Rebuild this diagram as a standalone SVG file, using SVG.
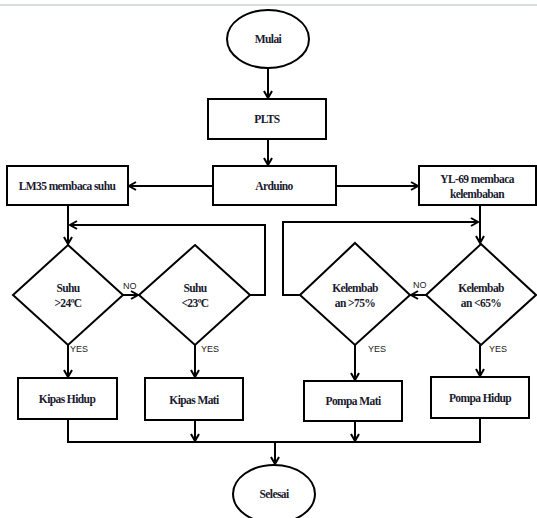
<svg xmlns="http://www.w3.org/2000/svg" width="537" height="518" viewBox="0 0 537 518">
<style>
.s{fill:#fff;stroke:#000;stroke-width:2}
.c{fill:none;stroke:#000;stroke-width:2}
.t{font-family:"Liberation Serif",serif;font-weight:bold;font-size:11.5px;letter-spacing:-0.6px;text-anchor:middle;fill:#1a1a2e}
.l{font-family:"Liberation Sans",Arial,sans-serif;font-size:9px;fill:#222}
</style>
<defs>
<marker id="a" markerWidth="10" markerHeight="10" refX="8" refY="5" orient="auto" markerUnits="userSpaceOnUse">
<path d="M1,1 L8,5 L1,9" fill="none" stroke="#000" stroke-width="2"/>
</marker>
</defs>
<rect x="0" y="0" width="537" height="518" fill="#fff"/>
<line x1="0" y1="5" x2="537" y2="5" stroke="#d8dde2" stroke-width="2"/>
<g id="connectors">
<line class="c" x1="268" y1="68" x2="268" y2="98" marker-end="url(#a)"/>
<line class="c" x1="268" y1="139" x2="268" y2="165" marker-end="url(#a)"/>
<line class="c" x1="213" y1="186" x2="129" y2="186" marker-end="url(#a)"/>
<line class="c" x1="336" y1="186" x2="418" y2="186" marker-end="url(#a)"/>
<line class="c" x1="68" y1="205" x2="68" y2="244" marker-end="url(#a)"/>
<polyline class="c" points="250,295 265,295 265,225 70,225" marker-end="url(#a)"/>
<line class="c" x1="123" y1="295" x2="138" y2="295" marker-end="url(#a)"/>
<line class="c" x1="480" y1="205" x2="480" y2="243" marker-end="url(#a)"/>
<polyline class="c" points="300,295 283,295 283,222 478,222" marker-end="url(#a)"/>
<line class="c" x1="426" y1="295" x2="411" y2="295" marker-end="url(#a)"/>
<line class="c" x1="68" y1="345" x2="68" y2="377" marker-end="url(#a)"/>
<line class="c" x1="195" y1="345" x2="195" y2="377" marker-end="url(#a)"/>
<line class="c" x1="355" y1="345" x2="355" y2="380" marker-end="url(#a)"/>
<line class="c" x1="480" y1="345" x2="480" y2="376" marker-end="url(#a)"/>
<polyline class="c" points="68,419 68,442 480,442 480,418"/>
<line class="c" x1="195" y1="420" x2="195" y2="441" marker-end="url(#a)"/>
<line class="c" x1="355" y1="421" x2="355" y2="441" marker-end="url(#a)"/>
<line class="c" x1="275" y1="442" x2="275" y2="464" marker-end="url(#a)"/>
<text class="l" x="123" y="289">NO</text>
<text class="l" x="413" y="288">NO</text>
<text class="l" x="70" y="352">YES</text>
<text class="l" x="201" y="352">YES</text>
<text class="l" x="368" y="352">YES</text>
<text class="l" x="489" y="352">YES</text>
</g>
<g id="mulai"><ellipse class="s" cx="268" cy="39" rx="41" ry="29"/><text class="t" x="268" y="43">Mulai</text></g>
<g id="plts"><rect class="s" x="208" y="99" width="118" height="40"/><text class="t" x="267" y="123">PLTS</text></g>
<g id="arduino"><rect class="s" x="213" y="166" width="123" height="39"/><text class="t" x="274" y="190">Arduino</text></g>
<g id="lm35"><rect class="s" x="7" y="166" width="121" height="39"/><text class="t" x="67" y="190">LM35 membaca suhu</text></g>
<g id="yl69"><rect class="s" x="419" y="166" width="117" height="39"/><text class="t" x="477" y="183">YL-69 membaca</text><text class="t" x="477" y="198">kelembaban</text></g>
<g id="suhu24"><polygon class="s" points="68,245 123,295 68,345 13,295"/><text class="t" x="68" y="292">Suhu</text><text class="t" x="68" y="307">&gt;24ºC</text></g>
<g id="suhu23"><polygon class="s" points="195,245 250,295 195,345 139,295"/><text class="t" x="195" y="292">Suhu</text><text class="t" x="195" y="307">&lt;23ºC</text></g>
<g id="kel75"><polygon class="s" points="355,243 410,295 355,345 300,295"/><text class="t" x="355" y="292">Kelembab</text><text class="t" x="355" y="307">an &gt;75%</text></g>
<g id="kel65"><polygon class="s" points="481,244 536,295 481,345 426,295"/><text class="t" x="481" y="292">Kelembab</text><text class="t" x="481" y="307">an &lt;65%</text></g>
<g id="kipashidup"><rect class="s" x="18" y="378" width="99" height="41"/><text class="t" x="67" y="403">Kipas Hidup</text></g>
<g id="kipasmati"><rect class="s" x="145" y="378" width="98" height="42"/><text class="t" x="194" y="404">Kipas Mati</text></g>
<g id="pompamati"><rect class="s" x="304" y="381" width="98" height="40"/><text class="t" x="353" y="405">Pompa Mati</text></g>
<g id="pompahidup"><rect class="s" x="431" y="377" width="98" height="41"/><text class="t" x="480" y="402">Pompa  Hidup</text></g>
<g id="selesai"><ellipse class="s" cx="274" cy="494" rx="41" ry="29"/><text class="t" x="274" y="498">Selesai</text></g>
</svg>
